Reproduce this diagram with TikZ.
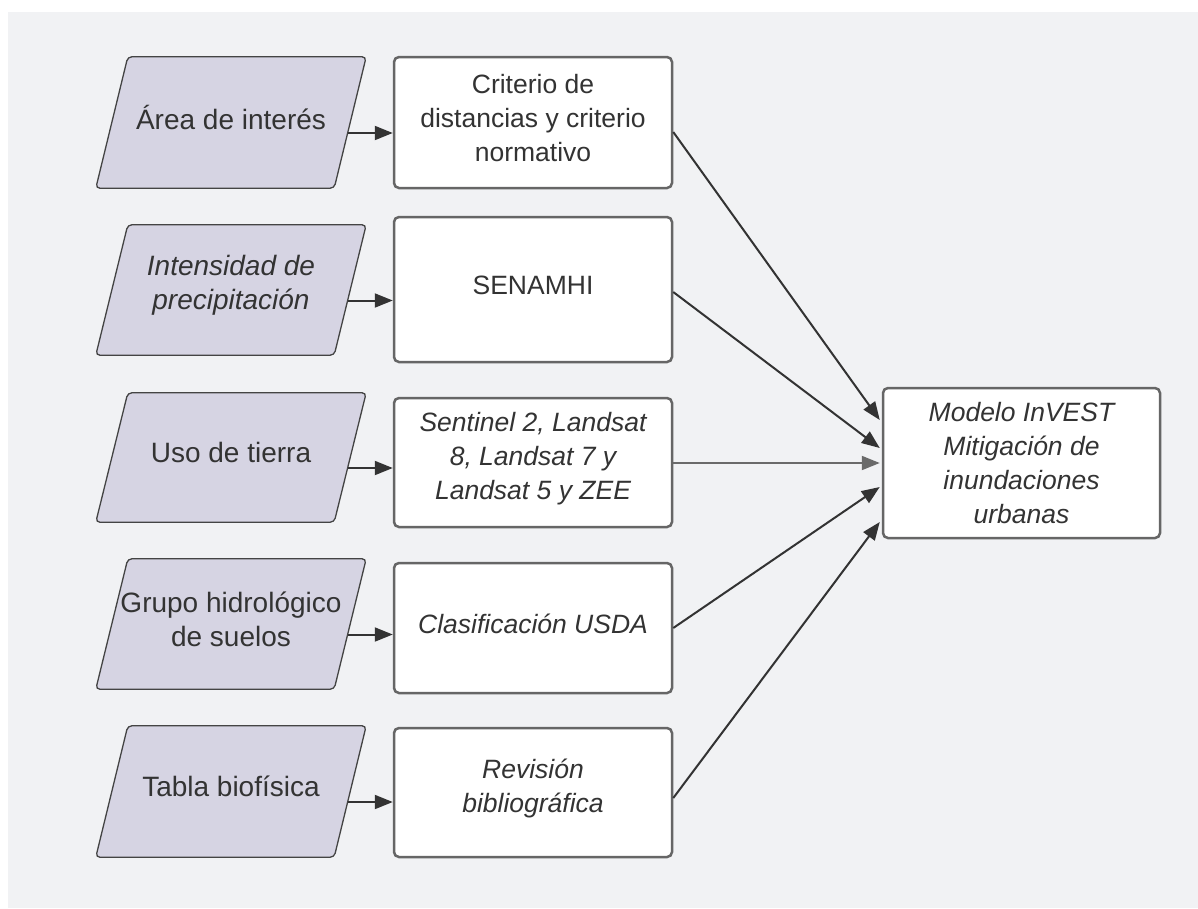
\documentclass[tikz,border=0pt]{standalone}
\usepackage{fontspec}
\setmainfont{Liberation Sans}
\usetikzlibrary{arrows.meta,calc,backgrounds}
\definecolor{panel}{HTML}{F1F2F4}
\definecolor{parafill}{HTML}{D6D4E3}
\definecolor{txt}{HTML}{333333}
\definecolor{rectline}{HTML}{666666}
\definecolor{paraline}{HTML}{444444}
\definecolor{arrdark}{HTML}{333333}
\definecolor{arrlight}{HTML}{6A6A6A}
\tikzset{
  base/.style={font=\fontsize{26.5}{34}\selectfont, text=txt, align=center, inner sep=0pt},
  ptext/.style={label={[base, font=\fontsize{28}{34}\selectfont, yshift=5pt]center:#1}},
  rtext/.style={label={[base, yshift=4pt]center:#1}},
  pnode/.style={inner sep=0pt, minimum width=238pt, minimum height=#1},
  rbox/.style={base, draw=rectline, line width=2.5pt, fill=white, rounded corners=5pt, minimum width=278pt, minimum height=#1},
  pshape/.style={draw=paraline, line width=1.3pt, fill=parafill, rounded corners=4pt},
  flow/.style={draw=arrdark, line width=2pt, -{Triangle[length=18pt,width=14pt]}},
  flowlight/.style={flow, draw=arrlight},
}
\begin{document}
\begin{tikzpicture}[x=1pt,y=-1pt]
\useasboundingbox (0,0) rectangle (1198,908);

% input parallelogram nodes
\node[pnode=131pt, ptext={Área de interés}] (p1) at (231,122.5) {};
\node[pnode=130pt, ptext={\itshape Intensidad de\\\itshape precipitación}] (p2) at (231,290) {};
\node[pnode=129pt, ptext={Uso de tierra}] (p3) at (231,457.5) {};
\node[pnode=130pt, ptext={Grupo hidrológico\\de suelos}] (p4) at (231,624) {};
\node[pnode=131pt, ptext={Tabla biofísica}] (p5) at (231,791.5) {};

\begin{scope}[on background layer]
\fill[white] (0,0) rectangle (1198,908);
\fill[panel] (8,12) rectangle (1198,908);
\foreach \p in {p1,p2,p3,p4,p5}{
  \draw[pshape] ($(\p.north west)+(16,0)$) -- ($(\p.north east)+(16,0)$)
     -- ($(\p.south east)+(-16,0)$) -- ($(\p.south west)+(-16,0)$) -- cycle;
}
\end{scope}

% source boxes
\node[rbox=131pt, rtext={Criterio de\\distancias y criterio\\normativo}] (r1) at (533,122.5) {};
\node[rbox=145pt, rtext={SENAMHI}] (r2) at (533,289.5) {};
\node[rbox=129pt, rtext={\itshape Sentinel 2, Landsat\\\itshape 8, Landsat 7 y\\\itshape Landsat 5 y ZEE}] (r3) at (533,462.5) {};
\node[rbox=130pt, rtext={\itshape Clasificación USDA}] (r4) at (533,628) {};
\node[rbox=129pt, rtext={\itshape Revisión\\\itshape bibliográfica}] (r5) at (533,792.5) {};

% model box
\node[rbox=150pt, minimum width=277pt] (F) at (1021.5,463) {\itshape Modelo InVEST\\\itshape Mitigación de\\\itshape inundaciones\\\itshape urbanas};

% input -> source arrows
\foreach \i in {1,...,5}{
  \draw[flow] ($(p\i.east)+(-2,10.5)$) coordinate (s\i) -- (s\i -| r\i.west);
}

% source -> model arrows
\draw[flow] ($(r1.east)+(0,9.5)$) -- ($(F.west)+(-2,-43)$);
\draw[flow] ($(r2.east)+(0,2.5)$) -- ($(F.west)+(-2,-15)$);
\draw[flowlight] ($(r3.east)+(0,0.5)$) -- ($(F.west)+(-2,0)$);
\draw[flow] ($(r4.east)+(0,0)$) -- ($(F.west)+(-2,24)$);
\draw[flow] ($(r5.east)+(0,5.5)$) -- ($(F.west)+(-2,59)$);
\end{tikzpicture}
\end{document}
